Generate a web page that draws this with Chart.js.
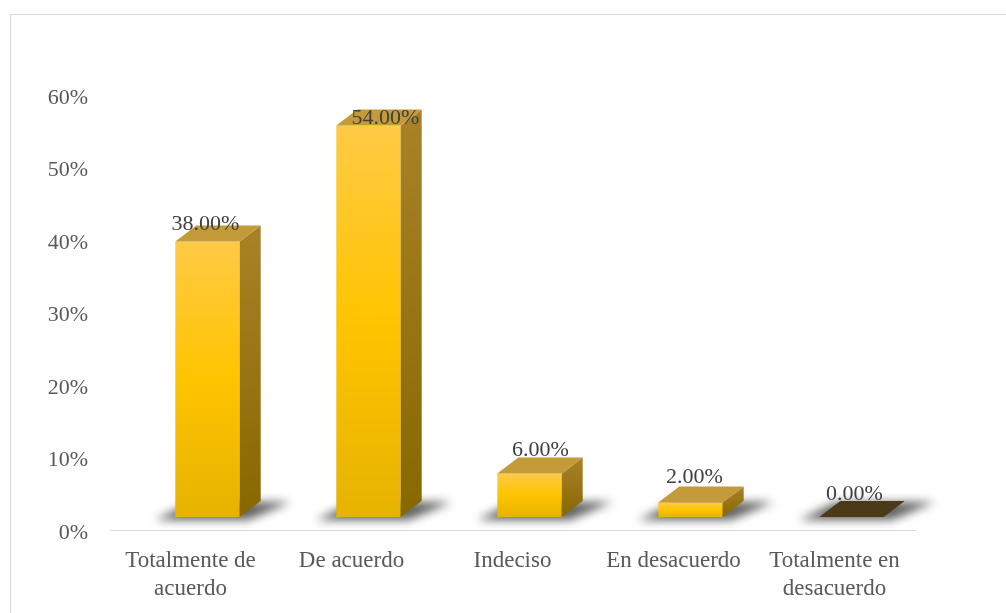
<!DOCTYPE html>
<html><head><meta charset="utf-8">
<script src="https://cdn.jsdelivr.net/npm/chart.js@4.4.0/dist/chart.umd.min.js"></script>
<style>html,body{margin:0;padding:0;background:#fff;overflow:hidden}#wrap{width:1006px;height:613px;position:relative}</style>
</head><body><div id="wrap"><canvas id="c" width="1006" height="613"></canvas></div>
<script>
const categories = [["Totalmente de","acuerdo"],"De acuerdo","Indeciso","En desacuerdo",["Totalmente en","desacuerdo"]];
const values = [38, 54, 6, 2, 0];
const valueLabels = ["38.00%","54.00%","6.00%","2.00%","0.00%"];
const yTickValues = [0, 10, 20, 30, 40, 50, 60];

// styling: nudges of value labels relative to the bar front top (px)
const LABEL_NUDGE_X = [-2, 17, 11, 4, 3];
const LABEL_NUDGE_Y = [-12, -2, -18, -20, -17];

const FONT = "'Liberation Serif','Times New Roman',serif";
const SHIFT = 17, LIFT = 13, DX = 21, DY = -16;

function frontGradient(context){
  const chart = context.chart;
  const ys = chart.scales && chart.scales.y;
  if (!ys || !chart.chartArea) return '#FFC400';
  const v = context.raw || 0;
  const top = ys.getPixelForValue(v), base = ys.getPixelForValue(0);
  if (base - top < 1) return '#FFC400';
  const g = chart.ctx.createLinearGradient(0, top, 0, base);
  g.addColorStop(0, '#FFCA45');
  g.addColorStop(0.5, '#FFC400');
  g.addColorStop(1, '#E6B300');
  return g;
}

const frame = {
  id: 'frame',
  beforeDraw(chart){
    const c = chart.ctx;
    c.save();
    c.fillStyle = '#fff';
    c.fillRect(0,0,chart.width,chart.height);
    c.strokeStyle = '#D9D9D9';
    c.lineWidth = 1;
    c.strokeRect(10.5, 14.5, 1010, 620);
    c.restore();
  }
};

const bars3d = {
  id: 'bars3d',
  beforeDatasetsDraw(chart){
    const c = chart.ctx;
    const meta = chart.getDatasetMeta(0);
    c.save();
    c.filter = 'blur(5px)';
    c.fillStyle = 'rgba(0,0,0,0.62)';
    meta.data.forEach(el => {
      const L = el.x - el.width/2 + SHIFT, R = el.x + el.width/2 + SHIFT, B = el.base - LIFT;
      c.beginPath();
      c.moveTo(L - 20, B + 3);
      c.lineTo(R + 8, B + 3);
      c.lineTo(R + DX + 30, B + DY + 1);
      c.lineTo(L + DX - 4, B + DY + 1);
      c.closePath();
      c.fill();
    });
    c.restore();
    c.save();
    c.translate(SHIFT, -LIFT);
  },
  afterDatasetsDraw(chart){
    const c = chart.ctx;
    c.restore();
    const meta = chart.getDatasetMeta(0);
    c.save();
    meta.data.forEach((el, i) => {
      const L = el.x - el.width/2 + SHIFT, R = el.x + el.width/2 + SHIFT;
      const T = el.y - LIFT, B = el.base - LIFT;
      const zero = (B - T) < 0.5;
      if (!zero){
        const sg = c.createLinearGradient(0, T + DY, 0, B);
        sg.addColorStop(0, '#A98228');
        sg.addColorStop(1, '#876800');
        c.fillStyle = sg;
        c.beginPath();
        c.moveTo(R, T); c.lineTo(R + DX, T + DY); c.lineTo(R + DX, B + DY); c.lineTo(R, B);
        c.closePath(); c.fill();
      }
      c.fillStyle = zero ? '#4A3A1A' : '#C49B38';
      c.beginPath();
      c.moveTo(L, T); c.lineTo(L + DX, T + DY); c.lineTo(R + DX, T + DY); c.lineTo(R, T);
      c.closePath(); c.fill();
      c.fillStyle = '#404040';
      c.font = "22px " + FONT;
      c.textAlign = 'center';
      c.textBaseline = 'alphabetic';
      c.fillText(valueLabels[i], el.x + SHIFT + LABEL_NUDGE_X[i], T + LABEL_NUDGE_Y[i]);
    });
    c.restore();
  }
};

new Chart(document.getElementById('c'), {
  type: 'bar',
  data: {
    labels: categories,
    datasets: [{
      data: values,
      backgroundColor: frontGradient,
      borderWidth: 0,
      categoryPercentage: 1,
      barPercentage: 0.4
    }]
  },
  options: {
    responsive: false,
    animation: false,
    devicePixelRatio: 1,
    layout: { padding: { left: 0, right: 91, top: 95, bottom: 0 } },
    plugins: { legend: { display: false }, tooltip: { enabled: false } },
    scales: {
      x: {
        grid: { display: false, drawTicks: false },
        border: { display: true, color: '#D9D9D9', width: 1 },
        ticks: { color: '#595959', font: { family: FONT, size: 23, lineHeight: 1.22 }, padding: 17, maxRotation: 0, autoSkip: false },
        afterFit(s){ s.height = 83; }
      },
      y: {
        min: 0, max: 60,
        grid: { display: false, drawTicks: false },
        border: { display: false },
        afterBuildTicks(s){ s.ticks = yTickValues.map(v => ({ value: v })); },
        ticks: { color: '#595959', font: { family: FONT, size: 22 }, padding: 22, labelOffset: 3, callback: v => v + '%' },
        afterFit(s){ s.width = 110; }
      }
    }
  },
  plugins: [frame, bars3d]
});
</script>
</body></html>
